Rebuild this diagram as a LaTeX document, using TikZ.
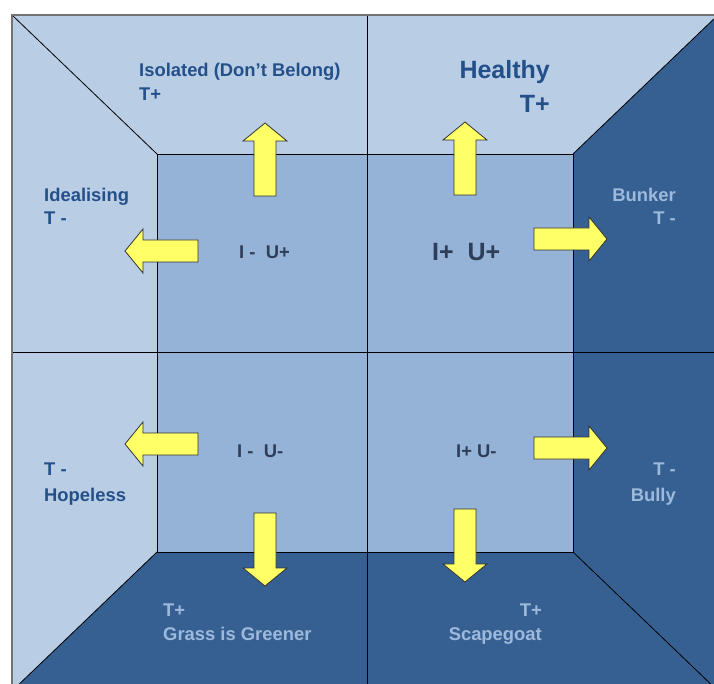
\documentclass[tikz,border=0pt]{standalone}
\usepackage{fontspec}
\setmainfont{Liberation Sans}
\usetikzlibrary{calc}
\definecolor{wall}{HTML}{B9CDE5}
\definecolor{core}{HTML}{95B3D7}
\definecolor{deep}{HTML}{366092}
\definecolor{inkdark}{HTML}{24508A}
\definecolor{inklight}{HTML}{9DB9DC}
\definecolor{inkcore}{HTML}{2E3D58}
\definecolor{push}{HTML}{FFFF66}

\begin{document}
\begin{tikzpicture}[
    x=1pt, y=-1pt,
    every node/.style={inner sep=0pt},
    lab/.style={font=\fontsize{18.4}{22}\selectfont\bfseries},
    big/.style={font=\fontsize{25}{30}\selectfont\bfseries},
    dk/.style={lab, text=inkdark},
    lt/.style={lab, text=inklight},
    ck/.style={lab, text=inkcore},
    edge/.style={black, line width=0.8pt},
    frame/.style={black!55, line width=1.6pt},
    pushfill/.style={fill=push, draw=black!80, line width=0.8pt, line join=miter},
    barrow/.pic={
        \draw[pushfill] (0,-11) -- (55,-11) -- (55,-22) -- (73,0)
            -- (55,22) -- (55,11) -- (0,11) -- cycle;
    },
]
\clip (0,0) rectangle (714,684);

% ============================================================ the room
\coordinate (A) at (12,15);
\coordinate (B) at (718,15);
\coordinate (C) at (718,691);
\coordinate (D) at (12,691);
\coordinate (a) at (157,154);
\coordinate (b) at (573,154);
\coordinate (c) at (573,552);
\coordinate (d) at (157,552);

\fill[wall] (A) -- (B) -- (b) -- (a) -- cycle;
\fill[wall] (A) -- (a) -- (d) -- (D) -- cycle;
\fill[deep] (B) -- (C) -- (c) -- (b) -- cycle;
\fill[deep] (D) -- (d) -- (c) -- (C) -- cycle;
\fill[core] (a) rectangle (c);

\draw[edge] (A) -- (a) (B) -- (b) (C) -- (c) (D) -- (d);
\draw[edge] (a) rectangle (c);
\draw[edge] (367,15) -- (367,691);
\draw[edge] (12,352) -- (718,352);
\draw[frame] (D) -- (A) -- (B);

% ============================================================ the pushes
\pic[rotate=90]  at (265,196) {barrow};
\pic[rotate=90]  at (465,195) {barrow};
\pic[rotate=180] at (198,251) {barrow};
\pic             at (534,239) {barrow};
\pic[rotate=180] at (198,444) {barrow};
\pic[rotate=-90] at (265,513) {barrow};
\pic             at (534,448) {barrow};
\pic[rotate=-90] at (465,509) {barrow};

% ============================================================ the walls
\node[dk, anchor=base west] (isolated) at (139,77) {Isolated (Don't Belong)};
\node[dk, anchor=base west] (isolatedT) at (139,101) {T+};
\node[dk, big, anchor=base east] (healthy) at (550,79) {Healthy};
\node[dk, big, anchor=base east] (healthyT) at (550,113) {T+};
\node[dk, anchor=base west] (idealising) at (44,202) {Idealising};
\node[dk, anchor=base west] (idealisingT) at (44,225) {T -};
\node[lt, anchor=base east] (bunker) at (676,202) {Bunker};
\node[lt, anchor=base east] (bunkerT) at (676,225) {T -};
\node[dk, anchor=base west] (hopelessT) at (44,475) {T -};
\node[dk, anchor=base west] (hopeless) at (44,501) {Hopeless};
\node[lt, anchor=base east] (bullyT) at (676,475) {T -};
\node[lt, anchor=base east] (bully) at (676,501) {Bully};
\node[lt, anchor=base west] (grassT) at (163,616) {T+};
\node[lt, anchor=base west] (grass) at (163,640) {Grass is Greener};
\node[lt, anchor=base east] (scapegoatT) at (542,616) {T+};
\node[lt, anchor=base east] (scapegoat) at (542,640) {Scapegoat};

% ============================================================ the core
\node[ck, anchor=base west] (iminusuplus) at (239,259) {I - \ U+};
\node[ck, big, anchor=base west] (iplusuplus) at (432,261) {I+ \ U+};
\node[ck, anchor=base west] (iminusuminus) at (237,457) {I - \ U-};
\node[ck, anchor=base west] (iplusuminus) at (456,457) {I+ U-};

\end{tikzpicture}
\end{document}
